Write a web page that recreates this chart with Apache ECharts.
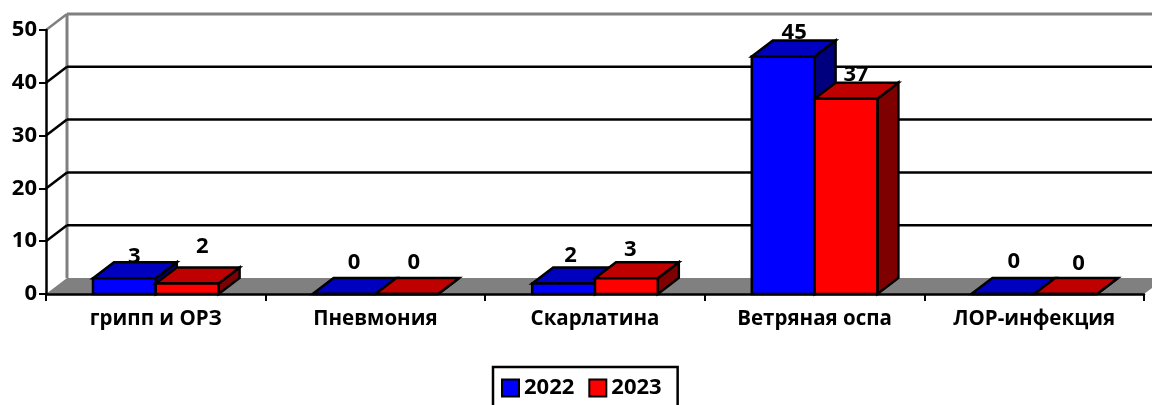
<!DOCTYPE html>
<html>
<head>
<meta charset="utf-8">
<style>html,body{margin:0;padding:0;background:#fff}#chart{width:1152px;height:405px}</style>
<script src="https://cdn.jsdelivr.net/npm/echarts@6/dist/echarts.min.js"></script>
</head>
<body>
<div id="chart"></div>
<script>
var categories = ['грипп и ОРЗ', 'Пневмония', 'Скарлатина', 'Ветряная оспа', 'ЛОР-инфекция']
var values2022 = [3, 0, 2, 45, 0]
var values2023 = [2, 0, 3, 37, 0]
var yTicks = [0, 10, 20, 30, 40, 50]

// сдвиг подписей как на картинке, от середины верхней кромки столбца
var labelShift2022 = [[10, -21], [10, -31], [7, -28], [11, -24], [11, -32]]
var labelShift2023 = [[15, -37], [7, -31], [4, -28], [10, -24], [13, -30]]

var fontName = '"Open Sans", sans-serif'
var depthX = 21
var depthY = -16
var barShare = 0.286 // ширина столбца от ширины категории

var chart = echarts.init(document.getElementById('chart'), null, { renderer: 'canvas' })

function rows(list) {
    return list.map(function (v, i) { return [i, v] })
}

function poly(points, fill) {
    return {
        type: 'polygon',
        shape: { points: points },
        style: { fill: fill, stroke: '#000', lineWidth: 2.5, lineJoin: 'miter' }
    }
}

// стены и пол
function renderWall(params, api) {
    var box = params.coordSys
    var v = api.value(0)
    var y = api.coord([0, v])[1]
    var x0 = box.x
    var x1 = box.x + box.width
    var color = v === 50 ? '#808080' : '#000'
    var kids = []
    if (v === 0) {
        kids.push({
            type: 'polygon',
            shape: { points: [[x0, y], [x0 + depthX, y + depthY], [x1 + depthX, y + depthY], [x1, y]] },
            style: { fill: '#808080' }
        })
        kids.push({
            type: 'line',
            shape: { x1: x0 + depthX, y1: y + depthY, x2: x0 + depthX, y2: box.y + depthY },
            style: { stroke: '#808080', lineWidth: 3 }
        })
    } else {
        kids.push({
            type: 'line',
            shape: { x1: x0, y1: y, x2: x0 + depthX, y2: y + depthY },
            style: { stroke: color, lineWidth: 2.5 }
        })
        kids.push({
            type: 'line',
            shape: { x1: x0 + depthX, y1: y + depthY, x2: x1 + depthX, y2: y + depthY },
            style: { stroke: color, lineWidth: v === 50 ? 3 : 2.5 }
        })
    }
    return { type: 'group', children: kids }
}

function barRenderer(side, front, top, dark, shift) {
    return function (params, api) {
        var i = api.value(0)
        var v = api.value(1)
        var p = api.coord([i, v])
        var base = api.coord([i, 0])
        var w = api.size([1, 0])[0] * barShare
        var left = side < 0 ? p[0] - w : p[0]
        var right = left + w
        var yt = p[1]
        var yb = base[1]
        return {
            type: 'group',
            children: [
                {
                    // подпись лежит под столбцом, верхняя грань её подрезает
                    type: 'text',
                    style: {
                        x: (left + right) / 2 + shift[i][0],
                        y: yt + shift[i][1],
                        text: String(v),
                        align: 'center',
                        verticalAlign: 'middle',
                        font: 'bold 22px ' + fontName,
                        fill: '#000'
                    }
                },
                poly([[right, yb], [right + depthX, yb + depthY], [right + depthX, yt + depthY], [right, yt]], dark),
                poly([[left, yt], [left + depthX, yt + depthY], [right + depthX, yt + depthY], [right, yt]], top),
                poly([[left, yt], [right, yt], [right, yb], [left, yb]], front)
            ]
        }
    }
}

var option = {
    animation: false,
    backgroundColor: '#fff',
    grid: { left: 46, right: 8, top: 30, bottom: 111, containLabel: false },
    legend: {
        data: [{ name: '2022', icon: 'rect' }, { name: '2023', icon: 'rect' }],
        left: 493,
        top: 367,
        orient: 'horizontal',
        padding: [10, 16, 20, 8],
        itemGap: 14,
        itemWidth: 17,
        itemHeight: 17,
        borderColor: '#000',
        borderWidth: 2.5,
        textStyle: { color: '#000', fontFamily: fontName, fontWeight: 'bold', fontSize: 22 }
    },
    xAxis: {
        type: 'category',
        data: categories,
        boundaryGap: true,
        z: 10,
        axisLine: { onZero: false, lineStyle: { color: '#000', width: 2.5 } },
        axisTick: { show: true, alignWithLabel: false, length: 7, lineStyle: { color: '#000', width: 2 } },
        axisLabel: { color: '#000', fontFamily: fontName, fontWeight: 'bold', fontSize: 20.5, margin: 15, interval: 0 }
    },
    yAxis: {
        type: 'value',
        min: yTicks[0],
        max: yTicks[yTicks.length - 1],
        interval: 10,
        z: 10,
        splitLine: { show: false },
        axisLine: { show: true, lineStyle: { color: '#000', width: 2.5 } },
        axisTick: { show: true, length: 7, lineStyle: { color: '#000', width: 2 } },
        axisLabel: { color: '#000', fontFamily: fontName, fontWeight: 'bold', fontSize: 22, margin: 9 }
    },
    series: [
        {
            name: 'walls',
            type: 'custom',
            silent: true,
            z: 1,
            data: yTicks.map(function (t) { return [t] }),
            encode: { y: 0 },
            renderItem: renderWall
        },
        {
            name: '2022',
            type: 'custom',
            z: 2,
            itemStyle: { color: '#0000ff', borderColor: '#000', borderWidth: 2.5 },
            data: rows(values2022),
            encode: { x: 0, y: 1 },
            renderItem: barRenderer(-1, '#0000ff', '#0000bf', '#00007f', labelShift2022)
        },
        {
            name: '2023',
            type: 'custom',
            z: 3,
            itemStyle: { color: '#ff0000', borderColor: '#000', borderWidth: 2.5 },
            data: rows(values2023),
            encode: { x: 0, y: 1 },
            renderItem: barRenderer(1, '#ff0000', '#bf0000', '#7f0000', labelShift2023)
        }
    ]
}
chart.setOption(option)
</script>
</body>
</html>
